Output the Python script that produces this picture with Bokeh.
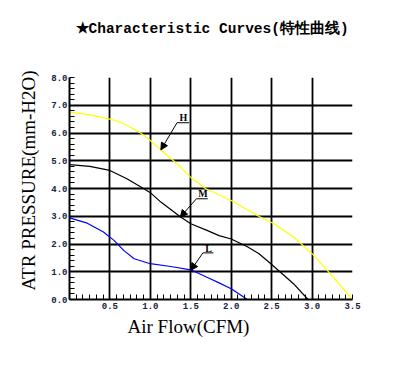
import math
from bokeh.plotting import figure
from bokeh.models import Range1d, FixedTicker, PrintfTickFormatter, Label, Arrow, NormalHead, Title
from bokeh.embed import file_html
from bokeh.resources import INLINE

# ---- data ----
h_flow = [0.0, 0.25, 0.5, 0.65, 0.88, 1.0, 1.13, 1.33, 1.5, 1.68, 2.0, 2.34, 2.53, 2.77, 3.0, 3.21, 3.5]
h_pres = [6.75, 6.65, 6.5, 6.37, 6.0, 5.73, 5.39, 4.89, 4.4, 4.0, 3.57, 3.0, 2.73, 2.25, 1.65, 0.98, 0.0]

m_flow = [0.0, 0.25, 0.5, 0.71, 0.92, 1.0, 1.13, 1.37, 1.5, 1.7, 1.85, 2.0, 2.2, 2.34, 2.49, 2.63, 2.77, 2.95]
m_pres = [4.86, 4.8, 4.65, 4.35, 3.99, 3.85, 3.51, 2.98, 2.73, 2.49, 2.3, 2.18, 1.9, 1.66, 1.29, 0.93, 0.57, 0.0]

l_flow = [0.0, 0.22, 0.42, 0.55, 0.67, 0.8, 1.0, 1.25, 1.5, 1.7, 1.85, 2.0, 2.2]
l_pres = [2.94, 2.75, 2.43, 2.13, 1.77, 1.47, 1.29, 1.19, 1.07, 0.8, 0.6, 0.39, 0.0]

x_ticks = [0.5, 1.0, 1.5, 2.0, 2.5, 3.0, 3.5]
y_ticks = [0, 1, 2, 3, 4, 5, 6, 7, 8]

chart_title = "★Characteristic Curves(特性曲线)"
x_title = "Air Flow(CFM)"
y_title = "ATR PRESSURE(mm-H2O)"

W, H = 400, 375
p = figure(width=W, height=H, x_range=Range1d(0, 3.5), y_range=Range1d(0, 8),
           output_backend="svg", toolbar_location=None,
           min_border_left=69, min_border_right=W - 352, min_border_top=77, min_border_bottom=H - 299)
p.outline_line_color = None
p.background_fill_color = "white"
p.border_fill_color = "white"

x_minor = [k / 12 for k in range(1, 43) if k % 6 != 0]
y_minor = [k / 5 for k in range(1, 40) if k % 5 != 0]

p.xaxis.ticker = FixedTicker(ticks=x_ticks, minor_ticks=x_minor)
p.yaxis.ticker = FixedTicker(ticks=y_ticks, minor_ticks=y_minor)
p.xaxis.formatter = PrintfTickFormatter(format="%.1f")
p.yaxis.formatter = PrintfTickFormatter(format="%.1f")
for ax in (p.xaxis[0], p.yaxis[0]):
    ax.axis_line_color = "black"
    ax.axis_line_width = 2
    ax.major_tick_in = 5
    ax.major_tick_out = 0
    ax.minor_tick_in = 5
    ax.minor_tick_out = 0
    ax.major_tick_line_color = "black"
    ax.minor_tick_line_color = "black"
    ax.major_label_text_font = "Liberation Mono"
    ax.major_label_text_font_size = "9px"
    ax.major_label_text_font_style = "bold"
    ax.major_label_text_color = "#202040"
p.xaxis.major_label_standoff = 3
p.yaxis.major_label_standoff = 2

p.xgrid.ticker = FixedTicker(ticks=x_ticks)
p.ygrid.ticker = FixedTicker(ticks=[1, 2, 3, 4, 5, 6, 7, 8])
for g in (p.xgrid[0], p.ygrid[0]):
    g.grid_line_color = "black"
    g.grid_line_width = 1.8
    g.grid_line_alpha = 1.0

p.line(h_flow, h_pres, line_color="#ffff00", line_width=1.2)
p.line(m_flow, m_pres, line_color="black", line_width=1.2)
p.line(l_flow, l_pres, line_color="#0000ff", line_width=1.2)

# curve name annotations with leader lines
notes = [
    ("H", 1.41, 6.55, 1.33, 1.48, 6.37, 1.13, 5.39),
    ("M", 1.65, 3.83, 1.57, 1.71, 3.63, 1.37, 2.97),
    ("L", 1.72, 1.83, 1.65, 1.78, 1.68, 1.50, 1.05),
]
for name, tx, ty, ux0, ux1, uy, ax_, ay_ in notes:
    p.add_layout(Label(x=tx, y=ty, text=name, text_font="Liberation Serif", text_font_size="10px",
                       text_font_style="bold", text_align="center", text_baseline="middle", text_color="black"))
    p.segment(x0=[ux0], y0=[uy], x1=[ux1], y1=[uy], line_color="black", line_width=1)
    p.add_layout(Arrow(x_start=ux0, y_start=uy, x_end=ax_, y_end=ay_, line_color="black", line_width=1,
                       end=NormalHead(size=7, fill_color="black", line_color="black")))

# titles placed in side panels (blank extra lines lift the chart title)
p.add_layout(Title(text=chart_title + "\n \n ", align="left", offset=6, standoff=4,
                   text_font="Liberation Mono", text_font_size="14.5px", text_font_style="bold",
                   text_line_height=1.2, text_color="black"), "above")
p.add_layout(Title(text=x_title, align="left", offset=58, standoff=4,
                   text_font="Liberation Serif", text_font_size="19px", text_font_style="normal",
                   text_color="black"), "below")
p.add_layout(Title(text=y_title, align="left", offset=9, standoff=20,
                   text_font="Liberation Serif", text_font_size="19px", text_font_style="normal",
                   text_color="black"), "left")

open("out.html", "w").write(file_html(p, INLINE))
